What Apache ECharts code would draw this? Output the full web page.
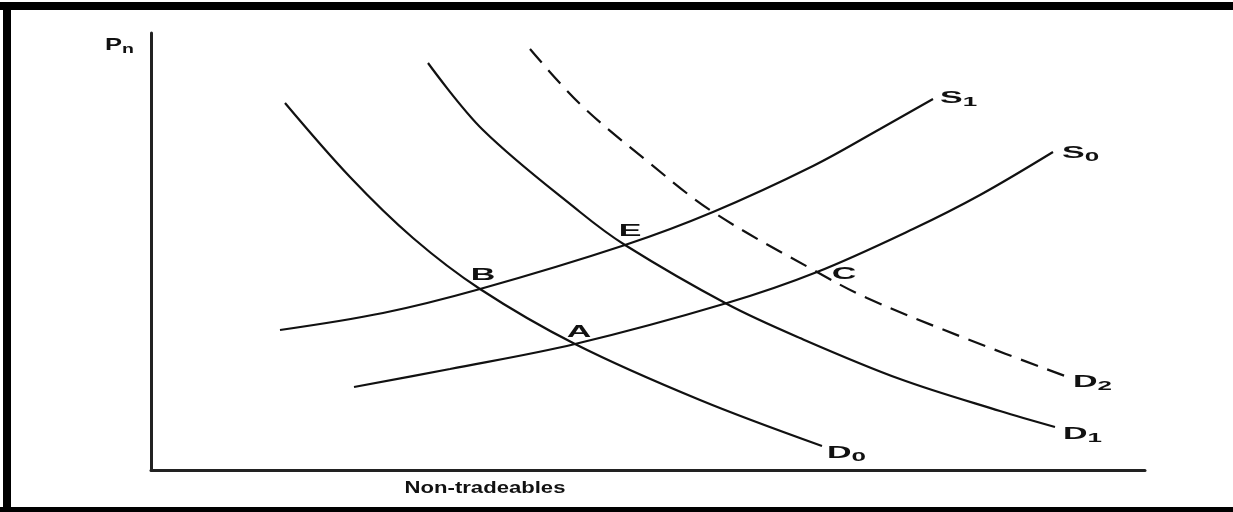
<!DOCTYPE html>
<html>
<head>
<meta charset="utf-8">
<script src="https://cdn.jsdelivr.net/npm/echarts@6/dist/echarts.min.js"></script>
<style>
html,body{margin:0;padding:0;background:#fff;}
#chart{width:1233px;height:512px;}
</style>
</head>
<body>
<div id="chart"></div>
<script>
// Curve values (quantity of non-tradeables, price Pn)
const S0 = [[203,83],[299,101],[424,126],[576,167],[666,198],[762,241],[829,275],[902,318]];
const S1 = [[129,140],[232,157],[329,181],[474,225],[562,258],[662,304],[729,341],[782,371]];
const D0 = [[134,367],[199,293],[262,232],[329,181],[424,126],[549,70],[671,24]];
const D1 = [[277,407],[332,340],[429,258],[474,225],[576,166],[649,132],[749,91],[849,59],[904,43]];
const D2 = [[379,421],[429,366],[496,309],[562,258],[666,198],[716,172],[816,131],[914,94]];

const curveNames = ['S0','S1','D0','D1','D2'];
const curveData = {S0, S1, D0, D1, D2};

const pointNames = ['A','B','C','E'];
const pointValues = [[424,126],[329,181],[666,198],[474,225]];

const xAxisName = 'Non-tradeables';
const yAxisName = 'Pn';

// ---- styling (not data) ----
const FONT = 'Liberation Sans';
const INK = '#111';
const endOffsets = { S1:[7,-1], S0:[9,1], D0:[5,7], D1:[8,7], D2:[8,6] };
const pointOffsets = { A:[4,-12], B:[3,-14], C:[27,2], E:[5,-14] };
const richStyle = {
  m: { fontSize: 17, fontWeight: 'bold', fontFamily: FONT, fill: INK, lineHeight: 22 },
  s: { fontSize: 13, fontWeight: 'bold', fontFamily: FONT, fill: INK, lineHeight: 22, verticalAlign: 'bottom' }
};
function richName(n) {
  return n.length > 1 ? '{m|' + n[0] + '}{s|' + n.slice(1) + '}' : '{m|' + n + '}';
}

const lineSeries = curveNames.map(n => ({
  name: n,
  type: 'line',
  data: curveData[n],
  smooth: 0.35,
  showSymbol: false,
  symbol: 'none',
  lineStyle: { color: INK, width: 2.2, type: n === 'D2' ? [18, 10] : 'solid', cap: 'butt' },
  z: 2
}));

// labels for curve ends
const endLabelData = curveNames.map(n => {
  const d = curveData[n];
  return { value: d[d.length - 1], name: n };
});
const endLabelSeries = {
  type: 'custom',
  coordinateSystem: 'cartesian2d',
  data: endLabelData,
  encode: { x: 0, y: 1 },
  silent: true,
  z: 5,
  renderItem: function (params, api) {
    const p = api.coord([api.value(0), api.value(1)]);
    const n = endLabelData[params.dataIndex].name;
    const o = endOffsets[n];
    return {
      type: 'text', x: p[0] + o[0], y: p[1] + o[1], scaleX: 2.0,
      style: { text: richName(n), rich: richStyle, align: 'left', verticalAlign: 'middle', fill: INK }
    };
  }
};

const pointLabelData = pointNames.map((n, i) => ({ value: pointValues[i], name: n }));
const pointLabelSeries = {
  type: 'custom',
  coordinateSystem: 'cartesian2d',
  data: pointLabelData,
  encode: { x: 0, y: 1 },
  silent: true,
  z: 5,
  renderItem: function (params, api) {
    const p = api.coord([api.value(0), api.value(1)]);
    const n = pointLabelData[params.dataIndex].name;
    const o = pointOffsets[n];
    return {
      type: 'text', x: p[0] + o[0], y: p[1] + o[1], scaleX: 2.0,
      style: { text: n, fontSize: 17, fontWeight: 'bold', fontFamily: FONT, fill: INK, align: 'center', verticalAlign: 'middle' }
    };
  }
};

const chart = echarts.init(document.getElementById('chart'), null, { renderer: 'canvas' });
chart.setOption({
  animation: false,
  backgroundColor: '#fff',
  grid: { left: 151, right: 88, top: 33, bottom: 42, containLabel: false },
  xAxis: {
    type: 'value', min: 0, max: 994,
    axisLine: { show: true, lineStyle: { color: '#222', width: 3 } },
    axisTick: { show: false }, axisLabel: { show: false }, splitLine: { show: false }
  },
  yAxis: {
    type: 'value', min: 0, max: 437,
    axisLine: { show: true, lineStyle: { color: '#222', width: 3 } },
    axisTick: { show: false }, axisLabel: { show: false }, splitLine: { show: false }
  },
  graphic: [
    { type: 'rect', shape: { x: 0, y: 2, width: 1233, height: 8 }, style: { fill: '#000' }, silent: true },
    { type: 'rect', shape: { x: 3, y: 2, width: 8, height: 510 }, style: { fill: '#000' }, silent: true },
    { type: 'rect', shape: { x: 0, y: 507, width: 1233, height: 5 }, style: { fill: '#000' }, silent: true },
    { type: 'text', x: 485, y: 488, scaleX: 1.3,
      style: { text: xAxisName, fontSize: 17, fontWeight: 'bold', fontFamily: FONT, fill: INK, align: 'center', verticalAlign: 'middle' } },
    { type: 'text', x: 105, y: 45, scaleX: 1.5,
      style: { text: '{m|' + yAxisName[0] + '}{s|' + yAxisName.slice(1) + '}', rich: richStyle, align: 'left', verticalAlign: 'middle', fill: INK } }
  ],
  series: lineSeries.concat([endLabelSeries, pointLabelSeries])
});
</script>
</body>
</html>
